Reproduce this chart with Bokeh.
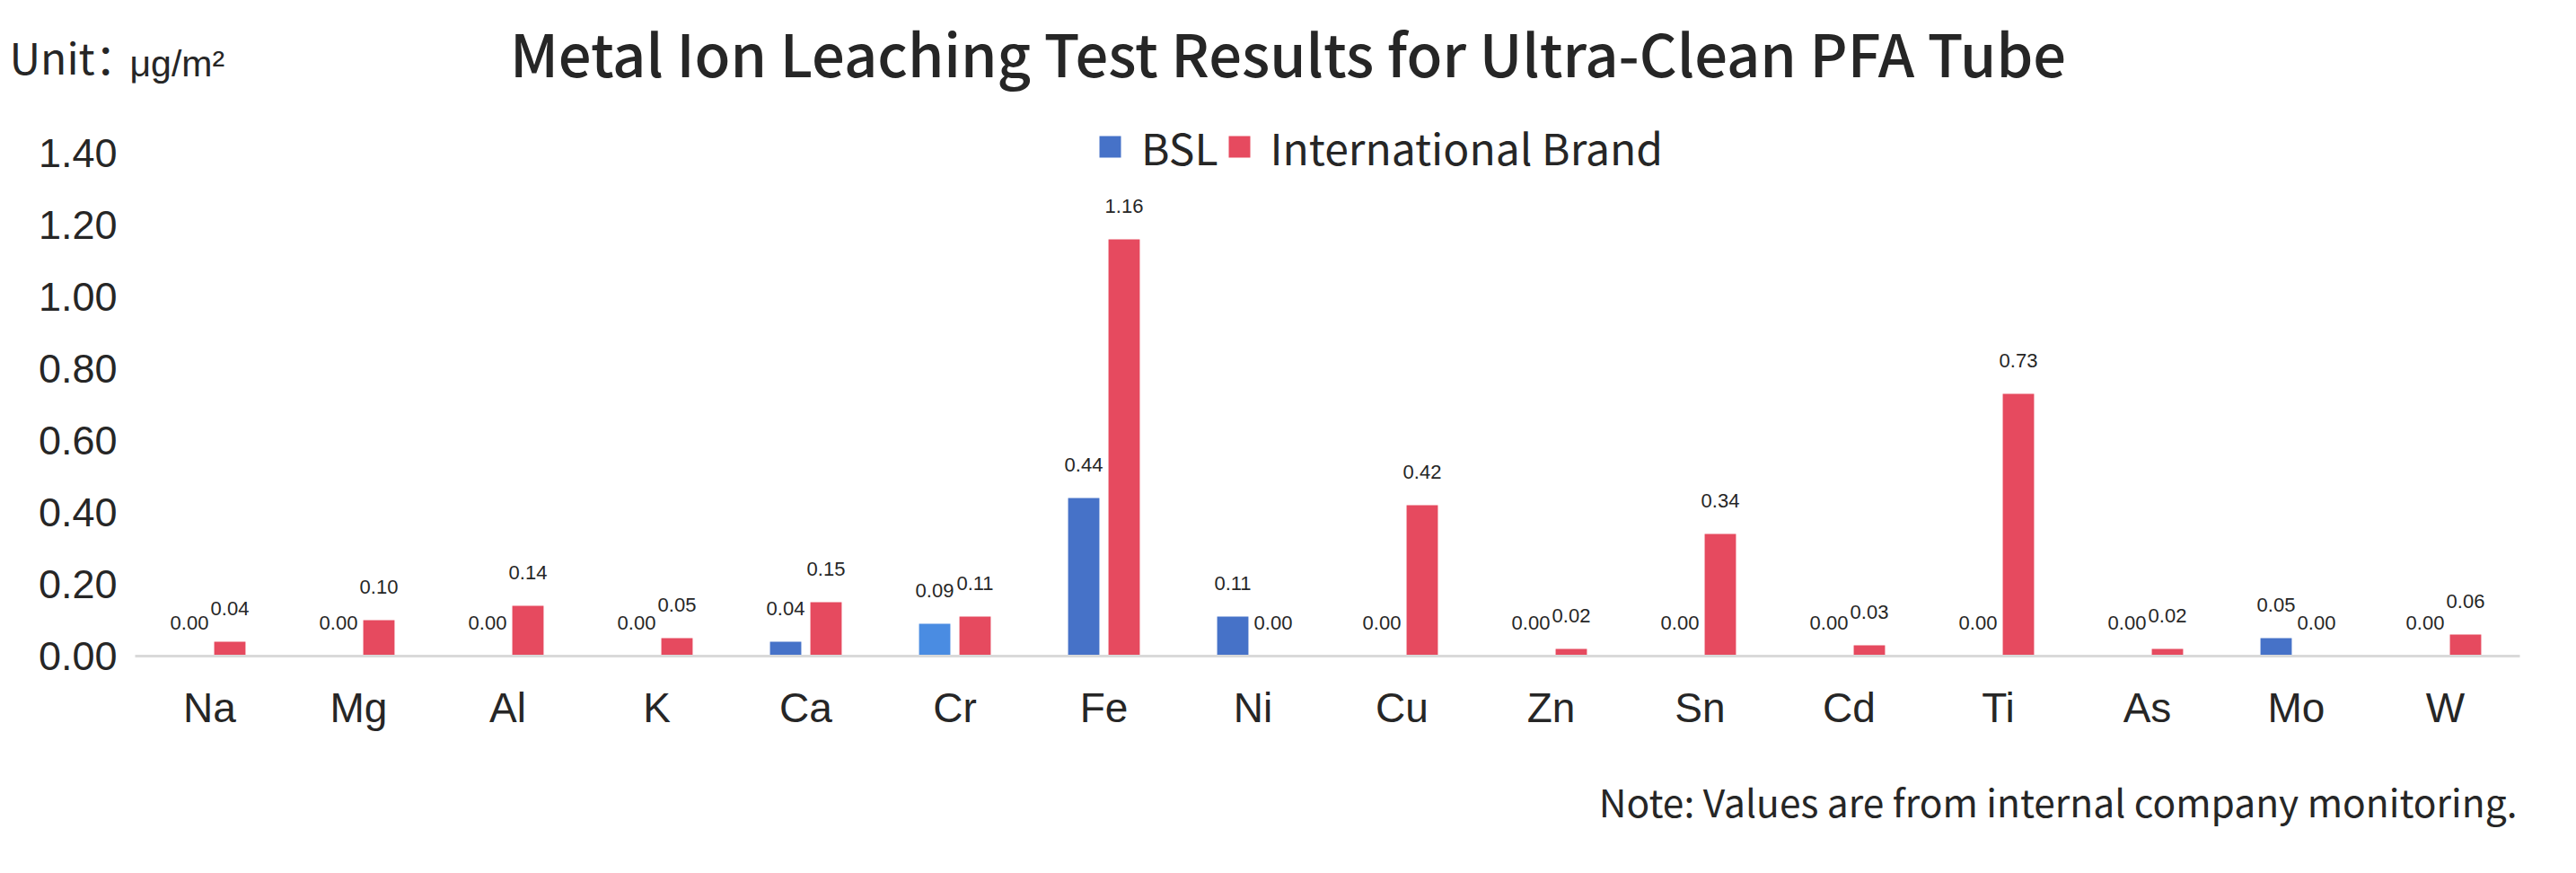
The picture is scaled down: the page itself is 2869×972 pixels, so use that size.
from bokeh.plotting import figure
from bokeh.models import (ColumnDataSource, Range1d, FixedTicker,
                          PrintfTickFormatter, LabelSet, Label, Legend, LegendItem)
from bokeh.core.properties import value
from bokeh.transform import dodge
from bokeh.embed import file_html
from bokeh.resources import INLINE

# ---- data ----
elements = ["Na", "Mg", "Al", "K", "Ca", "Cr", "Fe", "Ni",
            "Cu", "Zn", "Sn", "Cd", "Ti", "As", "Mo", "W"]
bsl = [0.00, 0.00, 0.00, 0.00, 0.04, 0.09, 0.44, 0.11,
       0.00, 0.00, 0.00, 0.00, 0.00, 0.00, 0.05, 0.00]
intl = [0.04, 0.10, 0.14, 0.05, 0.15, 0.11, 1.16, 0.00,
        0.42, 0.02, 0.34, 0.03, 0.73, 0.02, 0.00, 0.06]
y_ticks = [0.0, 0.2, 0.4, 0.6, 0.8, 1.0, 1.2, 1.4]
series_names = ["BSL", "International Brand"]

title_text = "Metal Ion Leaching Test Results for Ultra-Clean PFA Tube"
unit_prefix = "Unit\uff1a"
unit_text = "\u03bcg/m\u00b2"
note_text = "Note: Values are from internal company monitoring."

# ---- styles ----
BLUE = "#4672C8"
BLUE_LIGHT = "#4A8CE2"
RED = "#E64A5F"
TEXT = "#262626"
CJK = "Noto Sans CJK SC"
CJK_MED = "Noto Sans CJK SC Medium, Noto Sans CJK SC"
SANS = "Liberation Sans"

pos = list(range(len(elements)))          # category slots on the x scale
bsl_colors = [BLUE_LIGHT if e == "Cr" else BLUE for e in elements]

src = ColumnDataSource(dict(
    pos=pos,
    element=elements,
    bsl=bsl,
    intl=intl,
    bsl_txt=[f"{v:.2f}" for v in bsl],
    intl_txt=[f"{v:.2f}" for v in intl],
    bsl_color=bsl_colors,
))

# ---- geometry (pixels) ----
W, H = 2852, 955
FL, FR = 150, 2806          # left / right edge of the category area
Y0 = 730                    # pixel row of value 0
PX_X = (FR - FL) / len(elements)
PX_Y = 400.0

x_start = -0.5 - FL / PX_X
x_end = len(elements) - 0.5 + (W - FR) / PX_X
y_start = -(H - Y0) / PX_Y
y_end = Y0 / PX_Y

p = figure(width=W, height=H, output_backend="svg", toolbar_location=None,
           x_range=Range1d(x_start, x_end), y_range=Range1d(y_start, y_end),
           min_border=0, min_border_left=0, min_border_right=0,
           min_border_top=0, min_border_bottom=0)
p.title = None
p.outline_line_color = None
p.xgrid.grid_line_color = None
p.ygrid.grid_line_color = None

OFF = 0.1355
BW = 0.21
r_bsl = p.vbar(x=dodge("pos", -OFF), top="bsl", width=BW,
               source=src, fill_color="bsl_color", line_color=None)
r_intl = p.vbar(x=dodge("pos", OFF), top="intl", width=BW,
                source=src, fill_color=RED, line_color=None)

for col, txt, off in (("bsl", "bsl_txt", -OFF), ("intl", "intl_txt", OFF)):
    p.add_layout(LabelSet(x=dodge("pos", off), y=col, text=txt,
                          source=src, y_offset=30, text_align="center",
                          text_baseline="alphabetic", text_font=value(SANS),
                          text_font_size="22px", text_color=TEXT))

# ---- axes (fixed inside the frame) ----
p.yaxis.fixed_location = -0.5
p.yaxis.ticker = FixedTicker(ticks=y_ticks)
p.yaxis.formatter = PrintfTickFormatter(format="%.2f")
p.yaxis.axis_line_color = None
p.yaxis.major_tick_line_color = None
p.yaxis.minor_tick_line_color = None
p.yaxis.major_tick_out = 0
p.yaxis.major_tick_in = 0
p.yaxis.major_label_standoff = 20
p.yaxis.major_label_text_font = SANS
p.yaxis.major_label_text_font_size = "45px"
p.yaxis.major_label_text_color = TEXT

p.xaxis.fixed_location = 0
p.xaxis.bounds = (-0.5, len(elements) - 0.5)
p.xaxis.ticker = FixedTicker(ticks=pos)
p.xaxis.major_label_overrides = {i: e for i, e in zip(pos, elements)}
p.xaxis.axis_line_color = "#D9D9D9"
p.xaxis.axis_line_width = 3
p.xaxis.major_tick_line_color = None
p.xaxis.minor_tick_line_color = None
p.xaxis.major_tick_out = 0
p.xaxis.major_tick_in = 0
p.xaxis.major_label_standoff = 31
p.xaxis.major_label_text_font = SANS
p.xaxis.major_label_text_font_size = "46px"
p.xaxis.major_label_text_color = TEXT

# ---- legend ----
legend = Legend(items=[LegendItem(label=series_names[0], renderers=[r_bsl], index=0),
                       LegendItem(label=series_names[1], renderers=[r_intl], index=0)],
                orientation="horizontal", location=(1221, H - 198),
                glyph_width=30, glyph_height=30, label_standoff=20, spacing=8,
                padding=0, margin=0, border_line_color=None,
                background_fill_alpha=0, label_text_font=CJK,
                label_text_font_size="48px", label_text_color=TEXT)
p.add_layout(legend, "center")

# ---- free texts ----
def screen_label(x, y, text, font, size, align="left"):
    p.add_layout(Label(x=x, y=H - y, x_units="screen", y_units="screen",
                       text=text, text_font=font, text_font_size=size,
                       text_color=TEXT, text_align=align,
                       text_baseline="alphabetic"))

screen_label(1434, 57, title_text, CJK_MED, "65px", "center")
screen_label(10, 61, unit_prefix, CJK, "48px")
screen_label(144, 70, unit_text, SANS, "41px")
screen_label(2803, 891, note_text, CJK, "42.5px", "right")

open("out.html", "w").write(file_html(p, INLINE))
